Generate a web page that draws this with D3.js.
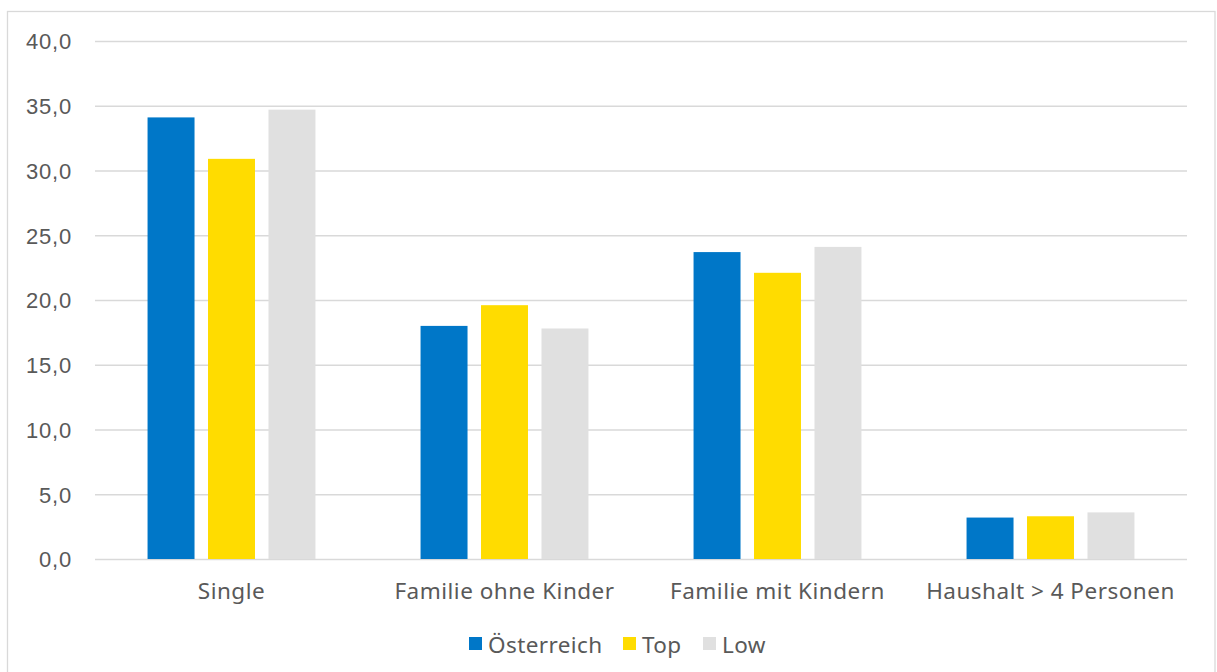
<!DOCTYPE html>
<html>
<head>
<meta charset="utf-8">
<script src="https://cdn.jsdelivr.net/npm/d3@7"></script>
<style>
  html, body { margin: 0; padding: 0; background: #fff; }
  svg { display: block; font-family: "Noto Sans", "Open Sans", sans-serif; }
</style>
</head>
<body>
<svg id="chart" width="1217" height="672"></svg>
<script>
// Anteil nach Haushaltstyp
const categories = ["Single", "Familie ohne Kinder", "Familie mit Kindern", "Haushalt > 4 Personen"];
const seriesNames = ["Österreich", "Top", "Low"];
const oesterreichValues = [34.1, 18.0, 23.7, 3.2];
const topValues = [30.9, 19.6, 22.1, 3.3];
const lowValues = [34.7, 17.8, 24.1, 3.6];
const yTicks = [0, 5, 10, 15, 20, 25, 30, 35, 40];
const colors = ["#0077C8", "#FFDC00", "#E0E0E0"];

const seriesValues = [oesterreichValues, topValues, lowValues];
const rows = categories.map((c, i) => ({
  category: c,
  values: seriesNames.map((s, j) => ({ series: s, value: seriesValues[j][i] }))
}));

const svg = d3.select("#chart");
const W = 1217, H = 672;

// outer frame
svg.append("rect")
  .attr("x", 7.5).attr("y", 11.5)
  .attr("width", W - 7.5 - 2).attr("height", H)
  .attr("fill", "#fff").attr("stroke", "#d9d9d9").attr("stroke-width", 1.3);

const plot = { left: 95, right: 1187, top: 41, bottom: 559 };

const x0 = d3.scaleBand().domain(categories).range([plot.left, plot.right]).paddingInner(0.385).paddingOuter(0.1925);
const x1 = d3.scaleBand().domain(seriesNames).range([0, x0.bandwidth()]).paddingInner(0.223);
const y = d3.scaleLinear().domain([0, 40]).range([plot.bottom, plot.top]);
const color = d3.scaleOrdinal().domain(seriesNames).range(colors);

const fmt = v => d3.format(".1f")(v).replace(".", ",");

// gridlines + y labels
const yAxis = d3.axisLeft(y).tickValues(yTicks).tickFormat(fmt)
  .tickSize(-(plot.right - plot.left)).tickPadding(23);
const gy = svg.append("g").attr("transform", `translate(${plot.left},0)`).call(yAxis);
gy.select(".domain").remove();
gy.selectAll(".tick line").attr("stroke", "#d9d9d9").attr("stroke-width", 1.3);
gy.selectAll(".tick text").attr("fill", "#595959").attr("font-size", 22)
  .attr("letter-spacing", 0.8).attr("dy", "0.36em");

// bars
const groups = svg.append("g").selectAll("g").data(rows).join("g")
  .attr("transform", d => `translate(${x0(d.category)},0)`);
groups.selectAll("rect").data(d => d.values).join("rect")
  .attr("x", d => x1(d.series))
  .attr("width", x1.bandwidth())
  .attr("y", d => y(d.value))
  .attr("height", d => y(0) - y(d.value))
  .attr("fill", d => color(d.series));

// category labels
const xAxis = d3.axisBottom(x0).tickSize(0).tickPadding(24);
const gx = svg.append("g").attr("transform", `translate(0,${plot.bottom})`).call(xAxis);
gx.select(".domain").remove();
gx.selectAll(".tick text").attr("fill", "#595959").attr("font-size", 22.5)
  .attr("letter-spacing", 0.5).attr("font-family", "\"Noto Sans\", sans-serif");

// legend
const legendItems = [{ x: 469 }, { x: 623 }, { x: 703 }];
const legend = svg.append("g");
seriesNames.forEach((s, i) => {
  const g = legend.append("g").attr("transform", `translate(${legendItems[i].x},637)`);
  g.append("rect").attr("width", 13).attr("height", 13).attr("fill", color(s));
  g.append("text").attr("x", 19).attr("y", 16).attr("fill", "#595959")
    .attr("font-size", 22.5).attr("letter-spacing", 0.4).text(s);
});
</script>
</body>
</html>
